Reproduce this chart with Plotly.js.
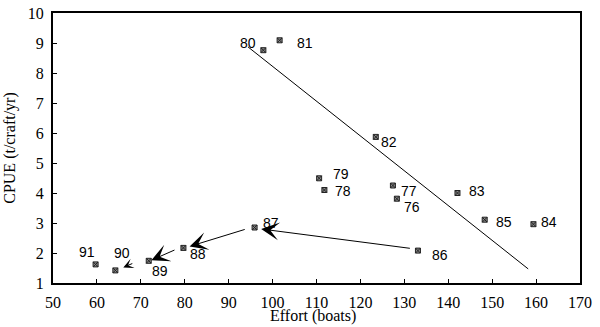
<!DOCTYPE html>
<html>
<head>
<meta charset="utf-8">
<script src="https://cdn.plot.ly/plotly-3.0.1.min.js"></script>
<style>
  html, body { margin: 0; padding: 0; background: #fff; }
  #chart { width: 600px; height: 327px; }
</style>
</head>
<body>
<div id="chart"></div>
<script>
// years, effort (boats) and CPUE (t/craft/yr)
const years  = ['76', '77', '78', '79', '80', '81', '82', '83', '84', '85', '86', '87', '88', '89', '90', '91'];
const effort = [128.3, 127.4, 111.8, 110.6, 97.9, 101.6, 123.5, 142.1, 159.4, 148.3, 133.1, 95.9, 79.7, 71.8, 64.2, 59.7];
const cpue   = [3.81, 4.25, 4.10, 4.49, 8.76, 9.09, 5.87, 4.00, 2.96, 3.11, 2.08, 2.85, 2.17, 1.74, 1.42, 1.62];

// fitted line (1976-85)
const fitX = [94.4, 158.2];
const fitY = [8.87, 1.47];

// arrows 86->87->88->89->90 : tail and tip
const arrTailX = [131.6, 94.0, 78.0, 68.4];
const arrTailY = [2.15, 2.80, 2.12, 1.67];
const arrTipX  = [97.4, 81.1, 72.4, 66.0];
const arrTipY  = [2.80, 2.22, 1.76, 1.52];

// label offsets in pixels (layout only)
const labelDx = [15, 16, 19, 22, -15, 25, 13, 20, 16, 19, 22, 16, 15, 11, 7, -9];
const labelDy = [-8, -5, -1, 4, 7, -3, -5, 2, 2, -2, -4, 5, -6, -10, 17, 12];

const SERIF = 'Liberation Serif, Times New Roman, serif';
const SANS = 'Liberation Sans, Arial, sans-serif';

const traces = [
  {
    x: fitX, y: fitY, mode: 'lines', type: 'scatter',
    line: { color: '#000', width: 1 }, hoverinfo: 'skip'
  },
  {
    x: effort, y: cpue, mode: 'markers', type: 'scatter',
    marker: { symbol: 'square-x', size: 5, color: '#888', line: { color: '#222', width: 1 } }
  }
];

const annotations = [];
years.forEach((yr, i) => {
  annotations.push({
    x: effort[i], y: cpue[i], xref: 'x', yref: 'y', text: yr, showarrow: false,
    xshift: labelDx[i], yshift: labelDy[i],
    font: { family: SANS, size: 14, color: '#000' }
  });
});
arrTipX.forEach((tx, i) => {
  annotations.push({
    x: tx, y: arrTipY[i], ax: arrTailX[i], ay: arrTailY[i],
    xref: 'x', yref: 'y', axref: 'x', ayref: 'y', text: '',
    showarrow: true, arrowhead: 3, arrowsize: i === 3 ? 1.7 : 3, arrowwidth: 1, arrowcolor: '#000'
  });
});
// x title sits across the tick labels, place it in pixel terms
annotations.push({
  x: (313 - 53) / (600 - 53 - 20), y: -(305 - 283) / (327 - 13 - 44),
  xref: 'paper', yref: 'paper', xanchor: 'center', yanchor: 'top',
  text: 'Effort (boats)', showarrow: false,
  font: { family: SERIF, size: 16, color: '#000' }
});

const layout = {
  width: 600, height: 327,
  margin: { l: 53, r: 20, t: 13, b: 44 },
  paper_bgcolor: '#fff', plot_bgcolor: '#fff',
  showlegend: false,
  font: { family: SERIF, size: 15, color: '#000' },
  xaxis: {
    range: [50, 170], dtick: 10, tick0: 50, showgrid: false, zeroline: false,
    showline: true, mirror: true, linecolor: '#000', linewidth: 2,
    ticks: 'inside', ticklen: 4, tickcolor: '#000', ticklabelstandoff: 4,
    tickfont: { family: SERIF, size: 16 }
  },
  yaxis: {
    range: [1, 10], dtick: 1, showgrid: false, zeroline: false,
    showline: true, mirror: true, linecolor: '#000', linewidth: 2,
    ticks: 'inside', ticklen: 4, tickcolor: '#000', ticklabelstandoff: 4,
    tickfont: { family: SERIF, size: 16 },
    title: { text: 'CPUE (t/craft/yr)', standoff: 8, font: { family: SERIF, size: 16 } }
  },
  annotations: annotations
};

Plotly.newPlot('chart', traces, layout, { staticPlot: true, displayModeBar: false });
</script>
</body>
</html>
